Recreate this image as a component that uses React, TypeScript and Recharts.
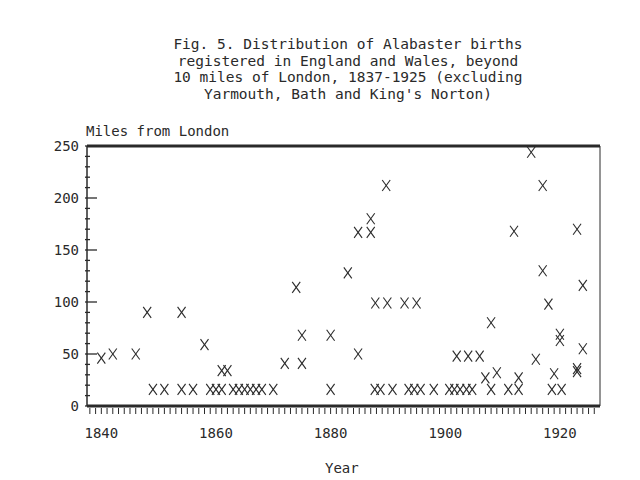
import { ScatterChart, Scatter, XAxis, YAxis, ReferenceLine } from "recharts";

// birth year and distance from London (miles)
const years = [
  1840, 1842, 1846, 1848, 1849, 1851, 1854, 1854, 1856, 1858,
  1859, 1860, 1861, 1861, 1862, 1863, 1864, 1865, 1866, 1867,
  1868, 1870, 1872, 1874, 1875, 1875, 1880, 1880, 1883, 1884.8,
  1884.8, 1887, 1887, 1887.8, 1889.9, 1892.9, 1895, 1889.7, 1887.7, 1888.7,
  1890.8, 1893.6, 1894.6, 1895.7, 1898, 1900.7, 1901.6, 1902.6, 1903.7, 1904.7,
  1902, 1904, 1906, 1908, 1907, 1909, 1908, 1911, 1912.8, 1912.8,
  1912, 1915, 1915.8, 1917, 1917, 1918, 1919, 1918.6, 1920.3, 1920,
  1920, 1923, 1923, 1923, 1924,
  1924,
];
const miles = [
  46, 50, 50, 90, 16, 16, 90, 16, 16, 59,
  16, 16, 16, 34, 34, 16, 16, 16, 16, 16,
  16, 16, 41, 114, 41, 68, 68, 16, 128, 50,
  167, 167, 180, 99, 99, 99, 99, 212, 16, 16,
  16, 16, 16, 16, 16, 16, 16, 16, 16, 16,
  48, 48, 48, 80, 27, 32, 16, 16, 16, 27,
  168, 244, 45, 212, 130, 98, 31, 16, 16, 69,
  63, 33, 36, 170, 55,
  116,
];

const yTicks = Array.from({ length: 26 }, (_, i) => i * 10);
const xTicks = Array.from({ length: 89 }, (_, i) => 1838 + i);
const xLabels = [1840, 1860, 1880, 1900, 1920];

const titleLines = [
  "Fig. 5. Distribution of Alabaster births",
  "registered in England and Wales, beyond",
  "10 miles of London, 1837-1925 (excluding",
  "Yarmouth, Bath and King's Norton)",
];

const ink = "#2a2a2a";
const font = "'DejaVu Sans Mono', monospace";

const data = years.map((y, i) => ({ year: y, miles: miles[i] }));

const Cross = (props: any) => {
  const { cx, cy } = props;
  return (
    <g stroke={ink} strokeWidth={1.1}>
      <line x1={cx - 4} y1={cy - 5.5} x2={cx + 4} y2={cy + 5.5} />
      <line x1={cx + 4} y1={cy - 5.5} x2={cx - 4} y2={cy + 5.5} />
    </g>
  );
};

const XTick = (props: any) => {
  const { x, y, payload } = props;
  const major = xLabels.includes(payload.value);
  return (
    <g>
      <line x1={x} y1={y} x2={x} y2={y + 6} stroke={ink} strokeWidth={1} />
      {major && (
        <text x={x} y={y + 30} textAnchor="middle" fill={ink} fontSize={14} fontFamily={font}>
          {payload.value}
        </text>
      )}
    </g>
  );
};

const YTick = (props: any) => {
  const { x, y, payload } = props;
  const major = payload.value % 50 === 0;
  return (
    <g>
      <line x1={x} y1={y} x2={x + (major ? 12 : 5)} y2={y} stroke={ink} strokeWidth={1.3} />
      {major && (
        <text x={x - 6} y={y + 5} textAnchor="end" fill={ink} fontSize={14} fontFamily={font}>
          {payload.value}
        </text>
      )}
    </g>
  );
};

export default function App() {
  return (
    <div style={{ position: "absolute", left: 0, top: 0, width: 640, height: 480, background: "#fff" }}>
      <div
        style={{
          position: "absolute",
          left: 0,
          width: 696,
          top: 36,
          textAlign: "center",
          fontFamily: font,
          fontSize: 14.5,
          lineHeight: "16.5px",
          color: ink,
          whiteSpace: "pre",
        }}
      >
        {titleLines.join("\n")}
      </div>
      <div style={{ position: "absolute", left: 86, top: 123, fontFamily: font, fontSize: 14, color: ink }}>
        Miles from London
      </div>
      <div style={{ position: "absolute", left: 325, top: 460, fontFamily: font, fontSize: 14, color: ink }}>
        Year
      </div>
      <ScatterChart width={640} height={480} margin={{ top: 146, right: 40, bottom: 34, left: 47 }}>
        <XAxis
          type="number"
          dataKey="year"
          domain={[1837.5, 1927]}
          ticks={xTicks}
          interval={0}
          tick={<XTick />}
          tickLine={false}
          tickSize={0}
          axisLine={{ stroke: ink, strokeWidth: 3 }}
          height={40}
        />
        <YAxis
          type="number"
          dataKey="miles"
          domain={[0, 250]}
          ticks={yTicks}
          interval={0}
          tick={<YTick />}
          tickLine={false}
          tickSize={0}
          axisLine={{ stroke: ink, strokeWidth: 1.5 }}
          width={40}
        />
        <ReferenceLine y={250} stroke={ink} strokeWidth={3} />
        <ReferenceLine x={1927} stroke={ink} strokeWidth={1} />
        <Scatter data={data} shape={<Cross />} isAnimationActive={false} />
      </ScatterChart>
    </div>
  );
}
